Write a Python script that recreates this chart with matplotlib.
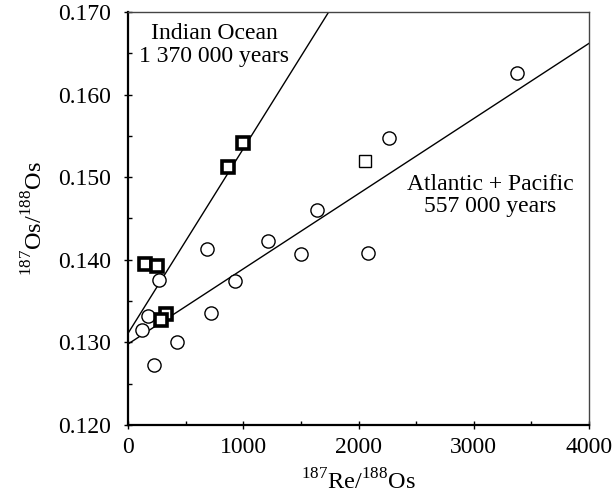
import numpy as np
import matplotlib
matplotlib.use('Agg')
import matplotlib.pyplot as plt
from matplotlib.ticker import MultipleLocator, FormatStrFormatter

plt.rcParams['font.family'] = 'Liberation Serif'
plt.rcParams['mathtext.fontset'] = 'custom'
plt.rcParams['mathtext.rm'] = 'Liberation Serif'

# Indian Ocean samples (bold squares)
indien_x = [995, 870, 148, 249, 330, 286]
indien_y = [0.1541, 0.1512, 0.1395, 0.1392, 0.1334, 0.1327]

# Atlantic + Pacific (circles)
atl_x = [3371, 2267, 1637, 1212, 683, 1505, 926, 272, 724, 171, 124, 429, 225, 2085]
atl_y = [0.1626, 0.1548, 0.1460, 0.1423, 0.1413, 0.1407, 0.1374, 0.1375,
         0.1335, 0.1332, 0.1315, 0.1301, 0.1273, 0.1408]

# square hors ligne
autre_x = [2054]
autre_y = [0.1520]

# isochrones (ordonnee a l'origine, pente)
iso_indien = (0.1311, 2.234e-5)
iso_atl = (0.1298, 9.1e-6)

fig = plt.figure(figsize=(6.12, 4.99), dpi=100)
ax = fig.add_axes([0.2092, 0.1483, 0.7532, 0.8277])

xx = np.array([0, 4000])
ax.plot(xx, iso_indien[0] + iso_indien[1]*xx, color='black', lw=1.0)
ax.plot(xx, iso_atl[0] + iso_atl[1]*xx, color='black', lw=1.0)

ax.plot(atl_x, atl_y, 'o', ms=9.5, mfc='white', mec='black', mew=1.0, ls='none')
ax.plot(autre_x, autre_y, 's', ms=8.5, mfc='white', mec='black', mew=1.0, ls='none')
ax.plot(indien_x, indien_y, 's', ms=8, mfc='white', mec='black', mew=2.6, ls='none')

ax.text(745, 0.1660, 'Indian Ocean\n1 370 000 years', ha='center', va='center',
        fontsize=17, linespacing=1.1)
ax.text(3141, 0.1478, 'Atlantic + Pacific\n557 000 years', ha='center', va='center',
        fontsize=17, linespacing=1.1)

ax.set_xlim(0, 4000)
ax.set_ylim(0.120, 0.170)
ax.xaxis.set_major_locator(MultipleLocator(1000))
ax.xaxis.set_minor_locator(MultipleLocator(500))
ax.yaxis.set_major_locator(MultipleLocator(0.01))
ax.yaxis.set_minor_locator(MultipleLocator(0.005))
ax.yaxis.set_major_formatter(FormatStrFormatter('%.3f'))

ax.tick_params(which='major', direction='inout', length=6, width=1.0, labelsize=17)
ax.tick_params(axis='y', which='major', pad=9)
ax.tick_params(axis='x', which='major', pad=6)
ax.tick_params(which='minor', direction='in', length=3, width=1.0)
ax.tick_params(top=False, right=False, which='both')

for s in ['left', 'bottom']:
    ax.spines[s].set_linewidth(1.6)
for s in ['top', 'right']:
    ax.spines[s].set_linewidth(1.0)
    ax.spines[s].set_color('#444444')

ax.set_xlabel(r'$^{187}$Re/$^{188}$Os', fontsize=17.5, labelpad=8)
ax.set_ylabel(r'$^{187}$Os/$^{188}$Os', fontsize=17.5, labelpad=8)

fig.savefig('out.png', dpi=100)
